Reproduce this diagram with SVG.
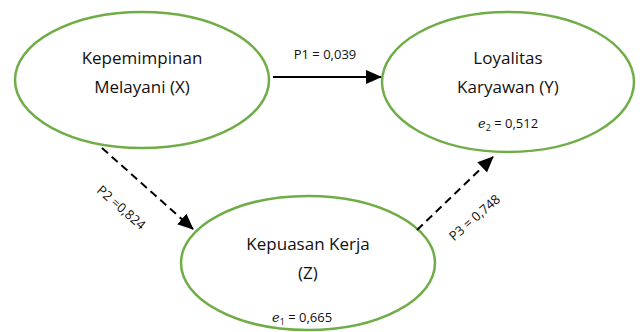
<svg xmlns="http://www.w3.org/2000/svg" width="640" height="332" viewBox="0 0 640 332">
<style>
.node ellipse{fill:#fff;stroke:#70AD47;stroke-width:2.5}
.lbl{font-family:"Open Sans","Liberation Sans",sans-serif;font-size:17px;fill:#111;text-anchor:middle}
.sm{font-family:"Open Sans","Liberation Sans",sans-serif;font-size:13px;fill:#111;text-anchor:middle}
.it{font-family:"DejaVu Serif","Liberation Serif",serif;font-style:italic}
.conn line{stroke:#000;stroke-width:2;fill:none}
.dash{stroke-dasharray:8 5}
</style>
<defs>
<marker id="ah" markerUnits="userSpaceOnUse" markerWidth="16" markerHeight="14" viewBox="0 0 16 14" refX="15" refY="7" orient="auto">
<path d="M0,0 L16,7 L0,14 Z" fill="#000"/>
</marker>
</defs>
<rect width="640" height="332" fill="#fff"/>
<g id="node-x" class="node">
<ellipse cx="142" cy="80" rx="127" ry="68"/>
<text class="lbl" x="142" y="64">Kepemimpinan</text>
<text class="lbl" x="142" y="93">Melayani (X)</text>
</g>
<g id="node-y" class="node">
<ellipse cx="508" cy="82" rx="126" ry="70"/>
<text class="lbl" x="508" y="64">Loyalitas</text>
<text class="lbl" x="508" y="93">Karyawan (Y)</text>
<text class="sm" x="508" y="128"><tspan class="it">e</tspan><tspan font-size="9" dy="3">2</tspan><tspan dy="-3"> = 0,512</tspan></text>
</g>
<g id="node-z" class="node">
<ellipse cx="308" cy="263" rx="127" ry="67"/>
<text class="lbl" x="308" y="250">Kepuasan Kerja</text>
<text class="lbl" x="308" y="279">(Z)</text>
<text class="sm" x="302" y="322"><tspan class="it">e</tspan><tspan font-size="9" dy="3">1</tspan><tspan dy="-3"> = 0,665</tspan></text>
</g>
<g id="connectors" class="conn">
<line x1="273" y1="77" x2="381" y2="77" marker-end="url(#ah)"/>
<line class="dash" x1="102" y1="148" x2="193" y2="229" marker-end="url(#ah)"/>
<line class="dash" x1="417" y1="230" x2="493" y2="157" marker-end="url(#ah)"/>
<text class="sm" x="325" y="59">P1 = 0,039</text>
<text class="sm" transform="translate(121,208) rotate(41)" y="4">P2 =0,824</text>
<text class="sm" transform="translate(475,218) rotate(-41)" y="4">P3 = 0,748</text>
</g>
</svg>
